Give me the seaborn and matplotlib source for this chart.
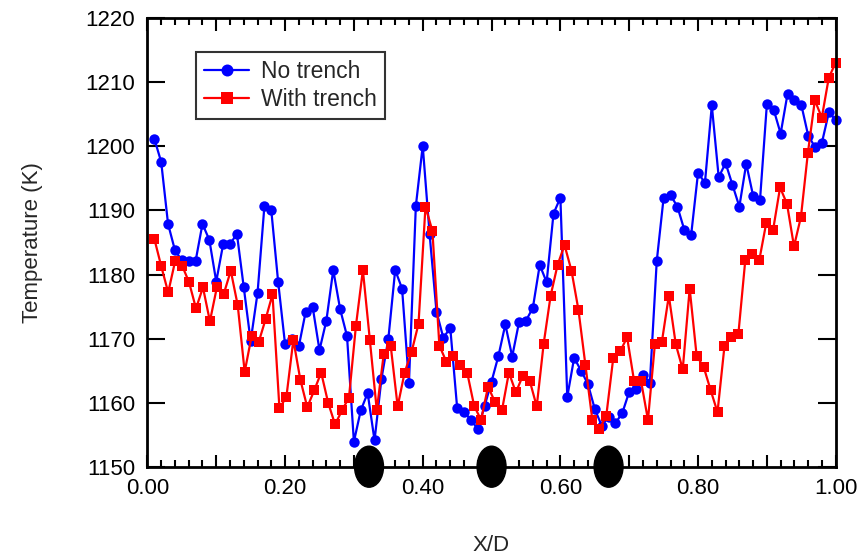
import numpy as np
import pandas as pd
import matplotlib
matplotlib.use("Agg")
import matplotlib.pyplot as plt
import matplotlib.ticker as mticker
from matplotlib.patches import Ellipse
import seaborn as sns

# Temperature along X/D, with and without trench
no_trench = [1201.2, 1197.6, 1187.9, 1183.8, 1182.2, 1182.1, 1182.1, 1187.9, 1185.4, 1178.9,
             1184.7, 1184.7, 1186.4, 1178.0, 1169.6, 1177.1, 1190.7, 1190.0, 1178.8, 1169.1,
             1170.0, 1168.8, 1174.2, 1175.0, 1168.2, 1172.8, 1180.7, 1174.6, 1170.4, 1153.9,
             1158.8, 1161.5, 1154.1, 1163.7, 1169.9, 1180.7, 1177.8, 1163.1, 1190.7, 1200.1,
             1186.3, 1174.2, 1170.1, 1171.7, 1159.2, 1158.6, 1157.3, 1155.9, 1159.5, 1163.3,
             1167.3, 1172.2, 1167.2, 1172.6, 1172.8, 1174.8, 1181.5, 1178.8, 1189.5, 1192.0,
             1160.9, 1167.0, 1165.0, 1162.9, 1159.0, 1156.4, 1157.8, 1156.8, 1158.4, 1161.7,
             1162.2, 1164.3, 1163.1, 1182.1, 1192.0, 1192.4, 1190.6, 1187.0, 1186.2, 1195.9,
             1194.3, 1206.4, 1195.2, 1197.4, 1194.0, 1190.6, 1197.3, 1192.3, 1191.6, 1206.6,
             1205.7, 1202.0, 1208.2, 1207.3, 1206.5, 1201.7, 1199.9, 1200.6, 1205.3, 1204.1]

with_trench = [1185.6, 1181.3, 1177.2, 1182.1, 1181.4, 1178.8, 1174.7, 1178.0, 1172.7, 1178.0,
               1177.0, 1180.6, 1175.2, 1164.8, 1170.4, 1169.4, 1173.0, 1176.9, 1159.1, 1160.9,
               1169.8, 1163.6, 1159.3, 1161.9, 1164.7, 1160.0, 1156.6, 1158.8, 1160.8, 1172.0,
               1180.7, 1169.8, 1158.8, 1167.6, 1168.9, 1159.4, 1164.7, 1167.9, 1172.3, 1190.6,
               1186.8, 1168.9, 1166.4, 1167.3, 1165.9, 1164.7, 1159.5, 1157.3, 1162.5, 1160.1,
               1158.8, 1164.7, 1161.6, 1164.2, 1163.4, 1159.4, 1169.2, 1176.7, 1181.5, 1184.6,
               1180.6, 1174.5, 1165.9, 1157.3, 1155.9, 1157.9, 1166.9, 1168.0, 1170.2, 1163.4,
               1163.4, 1157.3, 1169.2, 1169.5, 1176.7, 1169.1, 1165.2, 1177.8, 1167.3, 1165.6,
               1162.0, 1158.5, 1168.8, 1170.2, 1170.7, 1182.3, 1183.2, 1182.2, 1188.0, 1187.0,
               1193.6, 1191.0, 1184.4, 1189.0, 1199.0, 1207.2, 1204.5, 1210.7, 1213.1]

# evenly spaced stations over 0.01 .. 1.00
x_no = np.linspace(0.01, 1.00, len(no_trench))
x_with = np.linspace(0.01, 1.00, len(with_trench))

# trench hole positions drawn on the wall
hole_x = [0.322, 0.500, 0.670]

y_ticks = [1150, 1160, 1170, 1180, 1190, 1200, 1210, 1220]

df = pd.concat([
    pd.DataFrame({'X/D': x_no, 'T': no_trench, 'case': 'No trench'}),
    pd.DataFrame({'X/D': x_with, 'T': with_trench, 'case': 'With trench'}),
])

sns.set_style("ticks")
plt.rcParams['font.family'] = ['Liberation Sans', 'DejaVu Sans']

fig = plt.figure(figsize=(8.62, 5.6), dpi=100)
ax = fig.add_axes([0.171, 0.1666, 0.7985, 0.8007])

sns.lineplot(data=df, x='X/D', y='T', hue='case', style='case',
             palette={'No trench': '#0000ff', 'With trench': '#ff0000'},
             markers={'No trench': 'o', 'With trench': 's'}, dashes=False,
             markersize=7.5, markeredgewidth=0, linewidth=1.6,
             estimator=None, sort=False, ax=ax)
for ln in ax.lines:
    ln.set_clip_on(False)

# black ellipses for the trench holes, sitting on the bottom axis
for hx in hole_x:
    ax.add_patch(Ellipse((hx, 1150), width=0.042, height=6.4, color='black',
                         clip_on=False, zorder=10))

ax.set_xlim(0, 1.0)
ax.set_ylim(1150, 1220)
ax.xaxis.set_major_locator(mticker.MultipleLocator(0.1))
ax.xaxis.set_major_formatter(mticker.FuncFormatter(
    lambda v, p: f'{v:.2f}' if round(v * 10) % 2 == 0 else ''))
ax.xaxis.set_minor_locator(mticker.MultipleLocator(0.02))
ax.set_yticks(y_ticks)

ax.tick_params(axis='both', which='both', direction='in', top=True, right=True,
               labelsize=16, colors='black', width=1.5)
ax.tick_params(axis='x', which='major', length=9, pad=8)
ax.tick_params(axis='x', which='minor', length=5)
ax.tick_params(axis='y', which='major', length=13, pad=9)

for s in ax.spines.values():
    s.set_linewidth(2)
    s.set_color('black')

ax.set_xlabel('X/D', fontsize=16, labelpad=26)
ax.set_ylabel('Temperature (K)', fontsize=16, labelpad=30)

leg = ax.legend(loc='upper left', bbox_to_anchor=(0.07, 0.925), borderaxespad=0,
                fontsize=16.5, frameon=True, fancybox=False, handlelength=2.0,
                handletextpad=0.5, borderpad=0.35, labelspacing=0.2,
                markerscale=1.15)
leg.get_frame().set_edgecolor('black')
leg.get_frame().set_linewidth(1.5)

fig.savefig('out.png', dpi=100)
